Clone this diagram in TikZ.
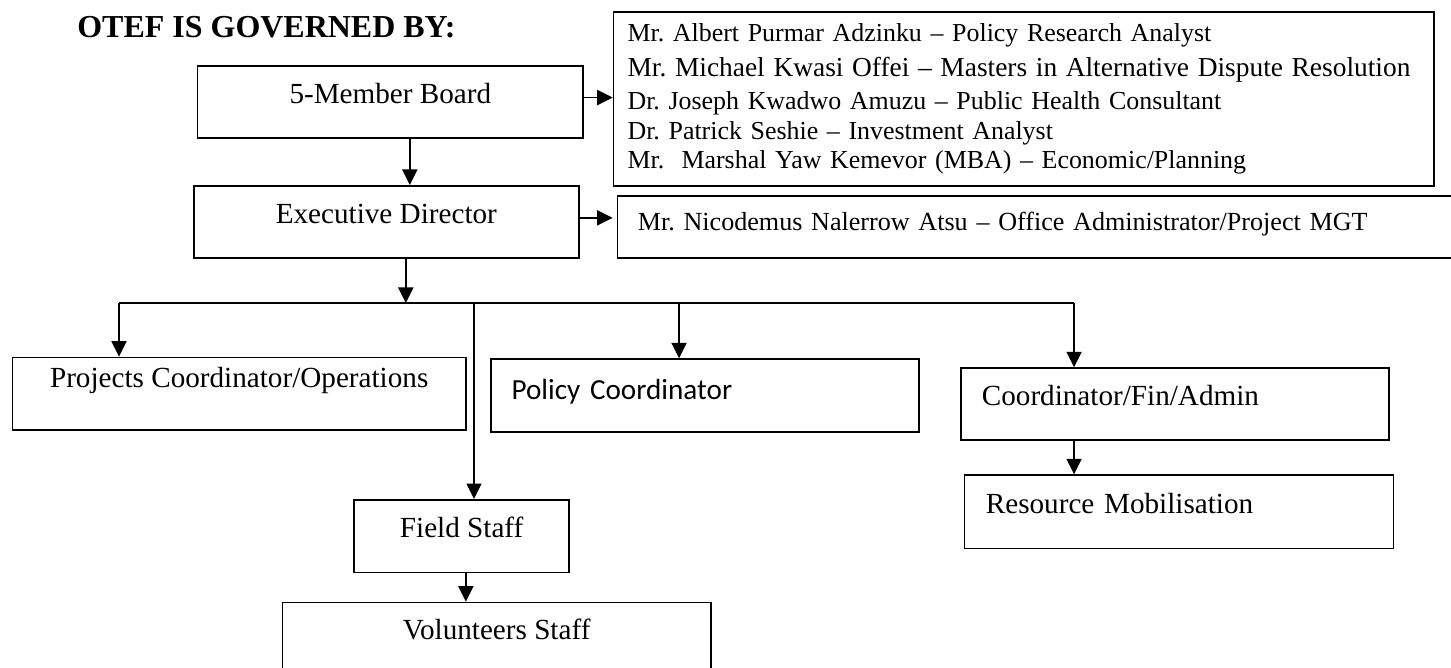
\documentclass[tikz,border=0pt]{standalone}
\usepackage{fontspec}
\setmainfont{Liberation Serif}
\newfontfamily\calibrifont{Carlito}
\usepackage{tikz}
\usetikzlibrary{arrows.meta, positioning, calc}
\frenchspacing

\tikzset{
    chartbox/.style={draw, line width=1pt, anchor=north west, inner ysep=0pt,
        font=\fontsize{16.6}{20}\selectfont},
    onerow/.style={chartbox, text height=7.6mm, text depth=6.8mm},
    link/.style={line width=1pt, -{Triangle[length=3.1mm, width=3mm]}}
}

\begin{document}
\begin{tikzpicture}[x=0.02cm, y=-0.02cm]
    \useasboundingbox (0,0) rectangle (1451,668);

    \node[anchor=base west, inner sep=0pt,
        font=\bfseries\fontsize{18.2}{22}\selectfont] (title) at (77,38) {OTEF IS GOVERNED BY:};

    % board and director
    \node[onerow, minimum width=77.2mm, inner xsep=0pt,
        text height=7.54mm, text depth=6.86mm] (board) at (196.5,65) {5-Member Board};
    \node[onerow, minimum width=77mm, inner xsep=0pt] (exec) at (193,185) {Executive Director};

    \node[
        chartbox,
        align=left,
        inner xsep=2.8mm,
        text width=158.46mm,
        minimum height=34.8mm,
        font=\fontsize{14.75}{17.45}\selectfont
    ] (members) at (612.7,11) {
        Mr. Albert Purmar Adzinku -- Policy Research Analyst\\[2.2pt]
        \mbox{\fontsize{15.6}{17.45}\selectfont Mr. Michael Kwasi Offei -- Masters in Alternative Dispute Resolution}\\[1.1pt]
        Dr. Joseph Kwadwo Amuzu -- Public Health Consultant\\
        Dr. Patrick Seshie -- Investment Analyst\\[-1.2pt]
        Mr.\ \ Marshal Yaw Kemevor (MBA) -- Economic/Planning
    };
    \node[onerow, align=left, inner xsep=4.06mm, text width=162.5mm,
        text height=7mm, text depth=5.4mm,
        font=\fontsize{14.86}{18}\selectfont] (nico) at (616.7,195)
        {Mr. Nicodemus Nalerrow Atsu -- Office Administrator/Project MGT};

    % second level
    \node[onerow, minimum width=90.66mm, inner xsep=0pt,
        text height=6mm, text depth=8.52mm] (projects) at (11.7,356.7) {Projects Coordinator/Operations};
    \node[onerow, align=left, inner xsep=4.14mm, text width=77.38mm,
        text height=8mm, text depth=6.54mm,
        font=\calibrifont\fontsize{16.6}{20}\selectfont] (policy) at (490,358.3) {Policy Coordinator};
    \node[onerow, align=left, inner xsep=4.14mm, text width=77.32mm,
        text height=7.54mm] (finadmin) at (960.3,367.3) {Coordinator/Fin/Admin};
    \node[onerow, align=left, inner xsep=4.26mm, text width=77.28mm,
        text height=7.68mm, text depth=7mm] (resource) at (963.7,474.3) {Resource Mobilisation};
    \node[onerow, minimum width=43mm, inner xsep=0pt,
        text height=7.54mm, text depth=7mm] (field) at (353.3,499) {Field Staff};
    \node[onerow, minimum width=85.7mm, inner xsep=0pt,
        text height=7.32mm] (volunteers) at (281.5,601.7) {Volunteers Staff};

    % distribution line under the director
    \coordinate (busL) at (119,303);
    \coordinate (busF) at (474,303);
    \coordinate (busP) at (679,303);
    \coordinate (busR) at (1074,303);
    \draw[line width=1pt] (busL) -- (busR);

    \draw[link] ([xshift=3.9mm]board.south) -- ([xshift=3.9mm]board.south |- exec.north);
    \draw[link] ([xshift=3.9mm]exec.south) -- ([xshift=3.9mm]exec.south |- busL);
    \draw[link] ([yshift=0.86mm]board.east) -- ([yshift=0.86mm]board.east -| members.west);
    \draw[link, shorten >=0.8mm] ([yshift=0.8mm]exec.east) -- ([yshift=0.8mm]exec.east -| nico.west);

    \draw[link] (busL) -- (busL |- projects.north);
    \draw[link] (busP) -- (busP |- policy.north);
    \draw[link] (busR) -- (busR |- finadmin.north);
    \draw[link] (busF) -- (busF |- field.north);
    \draw[link] (busR |- finadmin.south) -- (busR |- resource.north);
    \draw[link] ([xshift=0.85mm]field.south) -- ([xshift=0.85mm]field.south |- volunteers.north);
\end{tikzpicture}
\end{document}
